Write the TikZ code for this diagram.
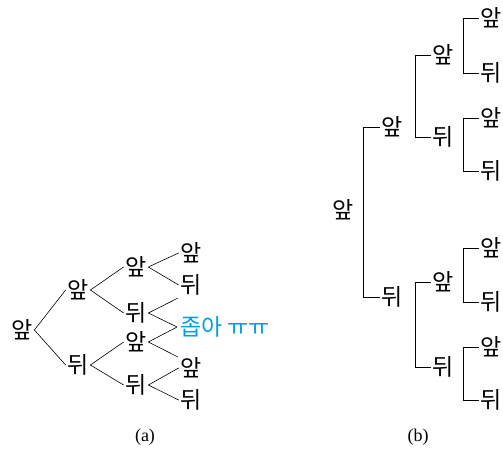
\documentclass[tikz,border=0pt]{standalone}
\usepackage{fontspec}
\setmainfont{Liberation Serif}
\newfontfamily\kor{Noto Sans CJK KR}
\usetikzlibrary{calc,positioning}
\definecolor{sob}{RGB}{0,160,225}

\begin{document}
\begin{tikzpicture}[x=1pt,y=-1pt,line width=0.6pt,
  ko/.style={inner sep=1.5pt,font=\kor\fontsize{23}{23}\selectfont},
  capt/.style={font=\fontsize{18}{18}\selectfont}]
\useasboundingbox (0,0) rectangle (503,450);

% (a) branching tree
\node [ko] (r) at (22,330) {앞};
\node [ko] (a) at (78,290) {앞};
\node [ko] (b) at (78,365) {뒤};
\node [ko] (aa) at (136,267) {앞};
\node [ko] (ab) at (136,313) {뒤};
\node [ko] (ba) at (136,342) {앞};
\node [ko] (bb) at (136,385) {뒤};
\node [ko] (aaa) at (191,253) {앞};
\node [ko] (aab) at (191,285) {뒤};
\node [ko] (bba) at (191,368) {앞};
\node [ko] (bbb) at (191,400) {뒤};
\coordinate (e1) at (178,298);
\coordinate (e2) at (177,327);
\coordinate (e3) at (178,357);
\node [ko,anchor=west,inner sep=3pt,text=sob] (sob) at (e2) {좁아 ㅠㅠ};

\draw (r.east) -- (a.west);
\draw (r.east) -- (b.west);
\draw (a.east) -- (aa.west);
\draw (a.east) -- (ab.west);
\draw (b.east) -- (ba.west);
\draw (b.east) -- (bb.west);
\draw (aa.east) -- (aaa.west);
\draw (aa.east) -- (aab.west);
\draw (ab.east) -- (e1);
\draw (ab.east) -- (e2);
\draw (ba.east) -- (e2);
\draw (ba.east) -- (e3);
\draw (bb.east) -- (bba.west);
\draw (bb.east) -- (bbb.west);

% (b) bracket tree
\node [ko] (R) at (343,210) {앞};
\node [ko] (A) at (392,127) {앞};
\node [ko] (B) at (392,297) {뒤};
\node [ko] (AA) at (443,55) {앞};
\node [ko] (AB) at (443,137) {뒤};
\node [ko] (BA) at (443,282) {앞};
\node [ko] (BB) at (443,367) {뒤};
\node [ko] (AAA) at (491,18) {앞};
\node [ko] (AAB) at (491,73) {뒤};
\node [ko] (ABA) at (491,118) {앞};
\node [ko] (ABB) at (491,171) {뒤};
\node [ko] (BAA) at (491,248) {앞};
\node [ko] (BAB) at (491,302) {뒤};
\node [ko] (BBA) at (491,347) {앞};
\node [ko] (BBB) at (491,400) {뒤};

\draw (A.west) -- ++(-16,0) |- (B.west);
\draw (AA.west) -- ++(-15,0) |- (AB.west);
\draw (BA.west) -- ++(-15,0) |- (BB.west);
\draw (AAA.west) -- ++(-15,0) |- (AAB.west);
\draw (ABA.west) -- ++(-15,0) |- (ABB.west);
\draw (BAA.west) -- ++(-15,0) |- (BAB.west);
\draw (BBA.west) -- ++(-15,0) |- (BBB.west);

\node [capt] (capa) at (145,437) {(a)};
\node [capt] (capb) at (418,437) {(b)};
\end{tikzpicture}
\end{document}
